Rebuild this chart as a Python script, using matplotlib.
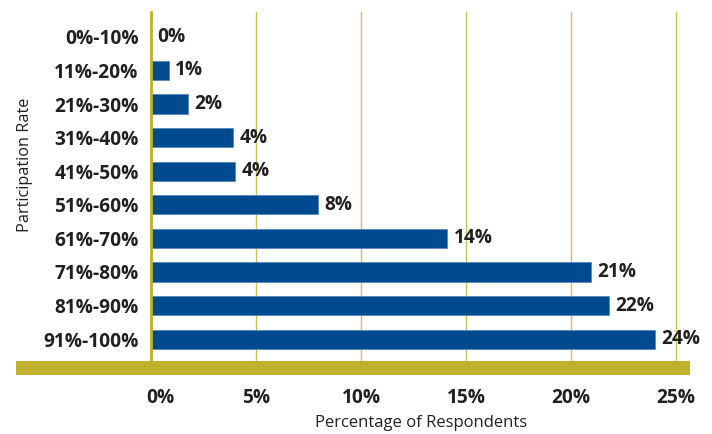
import matplotlib
matplotlib.use('Agg')
import matplotlib.pyplot as plt
import matplotlib.transforms as mtransforms
from matplotlib.patches import Rectangle

# participation rate buckets, top to bottom
categories = ['0%-10%', '11%-20%', '21%-30%', '31%-40%', '41%-50%',
              '51%-60%', '61%-70%', '71%-80%', '81%-90%', '91%-100%']
# bar lengths (percent of respondents)
values = [0, 0.85, 1.75, 3.9, 4.0, 7.95, 14.1, 20.95, 21.8, 24.0]
# printed labels
value_labels = ['0%', '1%', '2%', '4%', '4%', '8%', '14%', '21%', '22%', '24%']
xticks = [0, 5, 10, 15, 20, 25]

bar_color = '#004a8f'
gold = '#c0b02c'
grid_gold = '#cdbd55'
text_color = '#231f20'

plt.rcParams['font.family'] = ['Open Sans', 'DejaVu Sans']

fig = plt.figure(figsize=(7.12, 4.34), dpi=100)
ax = fig.add_axes([0.2121, 0.1705, 0.7374, 0.8019])

y = list(range(len(categories)))
ax.barh(y, values, height=0.57, color=bar_color, edgecolor='#5b86b8', linewidth=0.6, zorder=3)

for yi, v, lab in zip(y, values, value_labels):
    ax.text(v + 0.3, yi, lab, va='center', ha='left', fontsize=13.8, fontweight='bold',
            color=text_color, clip_on=False, zorder=4)

ax.set_ylim(9.62, -0.74)
ax.set_xlim(0, 25)
ax.set_xticks(xticks)
ax.set_xticklabels([f'{t}%' for t in xticks])
ax.set_yticks(y)
ax.set_yticklabels(categories)

for t in xticks[1:]:
    ax.axvline(t, color=grid_gold, linewidth=1.0, zorder=1, clip_on=False)

for s in ['top', 'right', 'bottom']:
    ax.spines[s].set_visible(False)
ax.spines['left'].set_color(gold)
ax.spines['left'].set_linewidth(2.0)
ax.spines['left'].set_zorder(5)

ax.tick_params(axis='both', length=0, labelsize=13.8, colors=text_color)
ax.tick_params(axis='x', pad=20)
ax.tick_params(axis='y', pad=9)
for lbl in ax.get_xticklabels() + ax.get_yticklabels():
    lbl.set_fontweight('bold')
# first tick label sits a little right of the axis line
first = ax.xaxis.get_major_ticks()[0].label1
first.set_transform(first.get_transform() + mtransforms.ScaledTranslation(0.09, 0, fig.dpi_scale_trans))

ax.set_xlabel('Percentage of Respondents', fontsize=12, color=text_color)
ax.xaxis.set_label_coords(0.515, -0.158)

fig.text(25 / 712, 0.62, 'Participation Rate', rotation=90, va='center', ha='center',
         fontsize=11.7, color=text_color)

# gold band under the plot
fig.patches.append(Rectangle((16 / 712, (434 - 375) / 434), 674 / 712, 14 / 434,
                             transform=fig.transFigure, facecolor=gold, edgecolor='none'))

fig.savefig('out.png', dpi=100)
